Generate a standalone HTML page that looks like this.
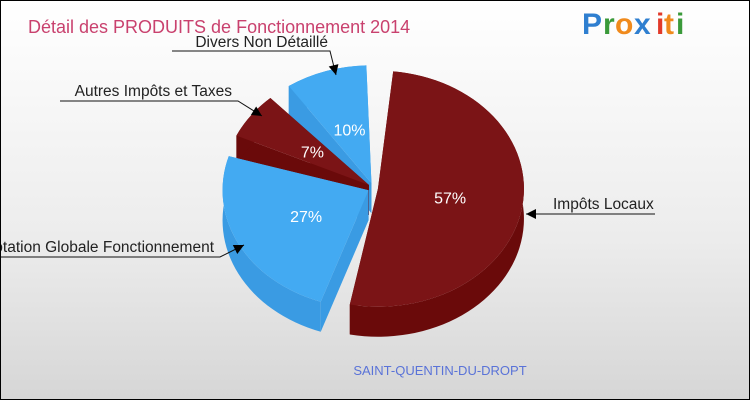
<!DOCTYPE html>
<html><head><meta charset="utf-8"><style>
html,body{margin:0;padding:0;}
#wrap{position:relative;width:748px;height:398px;border:1px solid #000;background:linear-gradient(#ffffff,#ececec 60%,#d6d6d6);overflow:hidden;font-family:"Liberation Sans",sans-serif;}
</style></head><body>
<div id="wrap">
<svg id="svg" width="748" height="398" viewBox="1 1 748 398">
<text x="28" y="33" font-size="18" fill="#c9416e">Détail des PRODUITS de Fonctionnement 2014</text>
<g font-size="30" font-weight="bold" font-family="'Liberation Sans',sans-serif">
<text x="582" y="34" fill="#2f7fd0">P</text><text x="603" y="34" fill="#3a9a3a">r</text><text x="615" y="34" fill="#f08a1c">o</text><text x="634" y="34" fill="#2f7fd0">x</text><text x="656" y="34" fill="#e23a2a">i</text><text x="664" y="34" fill="#f08a1c">t</text><text x="676" y="34" fill="#3a9a3a">i</text>
</g>
<g id="pie"></g>
<text x="440" y="375" text-anchor="middle" font-size="13" fill="#5a73d8">SAINT-QUENTIN-DU-DROPT</text>
</svg>
</div>
<script>
const categories=["Impôts Locaux","Dotation Globale Fonctionnement","Autres Impôts et Taxes","Divers Non Détaillé"];
const values=[57,27,7,10];
const pctLabels=["57%","27%","7%","10%"];
const topColors=["#7b1416","#43aaf2","#7b1416","#43aaf2"];
const sideColors=["#6a0a0a","#3a9be3","#6a0a0a","#3a9be3"];
const NS="http://www.w3.org/2000/svg";
const g=document.getElementById('pie');
const cx=373,cy=188,rx=146,ry=118,depth=30,explode=5,startDeg=-84,gapDeg=8;
const total=values.reduce((a,b)=>a+b,0);
const avail=(360-gapDeg*values.length)*Math.PI/180;
function pt(c,a,r){return [c[0]+rx*r*Math.cos(a),c[1]+ry*r*Math.sin(a)];}
let a0=startDeg*Math.PI/180;
const slices=[];
values.forEach((v,i)=>{const span=v/total*avail;const a1=a0,a2=a0+span,m=(a1+a2)/2;
 const c=[cx+explode*Math.cos(m),cy+explode*Math.sin(m)];slices.push({i,a1,a2,m,c});a0=a2+gapDeg*Math.PI/180;});
function mk(tag,attrs,name){const e=document.createElementNS(NS,tag);for(const k in attrs)e.setAttribute(k,attrs[k]);
 
 
 g.appendChild(e);return e;}
const order=slices.slice().sort((a,b)=>Math.sin(a.m)-Math.sin(b.m));
order.forEach(s=>{const c=s.c;
 const pb1=pt([c[0],c[1]+depth],s.a1,1),pb2=pt([c[0],c[1]+depth],s.a2,1);
 const pt1=pt(c,s.a1,1),pt2=pt(c,s.a2,1);
 mk('path',{d:`M${c[0]},${c[1]}L${pt1[0]},${pt1[1]}L${pb1[0]},${pb1[1]}L${c[0]},${c[1]+depth}Z`,fill:sideColors[s.i]},'slice-wall');
 mk('path',{d:`M${c[0]},${c[1]}L${pt2[0]},${pt2[1]}L${pb2[0]},${pb2[1]}L${c[0]},${c[1]+depth}Z`,fill:sideColors[s.i]},'slice-wall');
 const large=(s.a2-s.a1)>Math.PI?1:0;
 mk('path',{d:`M${pt1[0]},${pt1[1]}A${rx},${ry} 0 ${large} 1 ${pt2[0]},${pt2[1]}L${pb2[0]},${pb2[1]}A${rx},${ry} 0 ${large} 0 ${pb1[0]},${pb1[1]}Z`,fill:sideColors[s.i]},'slice-side');
});
order.forEach(s=>{const c=s.c;const p1=pt(c,s.a1,1),p2=pt(c,s.a2,1);const large=(s.a2-s.a1)>Math.PI?1:0;
 mk('path',{d:`M${c[0]},${c[1]}L${p1[0]},${p1[1]}A${rx},${ry} 0 ${large} 1 ${p2[0]},${p2[1]}Z`,fill:topColors[s.i]},'slice-'+categories[s.i].toLowerCase().replace(/[^a-z]+/g,'-'));
 const lp=pt(c,s.m,s.i==0?0.5:0.48);
 const t=mk('text',{x:lp[0],y:lp[1]+6,'text-anchor':'middle','font-size':16,fill:'#fff'},'pct-label');t.textContent=pctLabels[s.i];
});
const callouts=[{i:0,tx:553,ty:209,lx:[655,547],ly:214,ax:526,ay:214,anchor:'start'},
{i:1,tx:214,ty:252,lx:[0,220],ly:257,ax:244,ay:245,anchor:'end'},
{i:2,tx:232,ty:96,lx:[60,238],ly:101,ax:262,ay:116,anchor:'end'},
{i:3,tx:328,ty:47,lx:[172,330],ly:51,ax:336,ay:75,anchor:'end'}];
callouts.forEach(o=>{
 mk('polyline',{points:`${o.lx[0]},${o.ly} ${o.lx[1]},${o.ly} ${o.ax},${o.ay}`,fill:'none',stroke:'#111','stroke-width':1},'callout-line');
 const ang=Math.atan2(o.ay-o.ly,o.ax-o.lx[1]);const L=10,W=5;
 const bx=o.ax-L*Math.cos(ang),by=o.ay-L*Math.sin(ang);
 mk('path',{d:`M${o.ax},${o.ay}L${bx+W*Math.sin(ang)},${by-W*Math.cos(ang)}L${bx-W*Math.sin(ang)},${by+W*Math.cos(ang)}Z`,fill:'#000'},'callout-arrow');
 const t=mk('text',{x:o.tx,y:o.ty,'text-anchor':o.anchor,'font-size':15.5,fill:'#222'},'category-label');t.textContent=categories[o.i];
});
</script>
</body></html>
